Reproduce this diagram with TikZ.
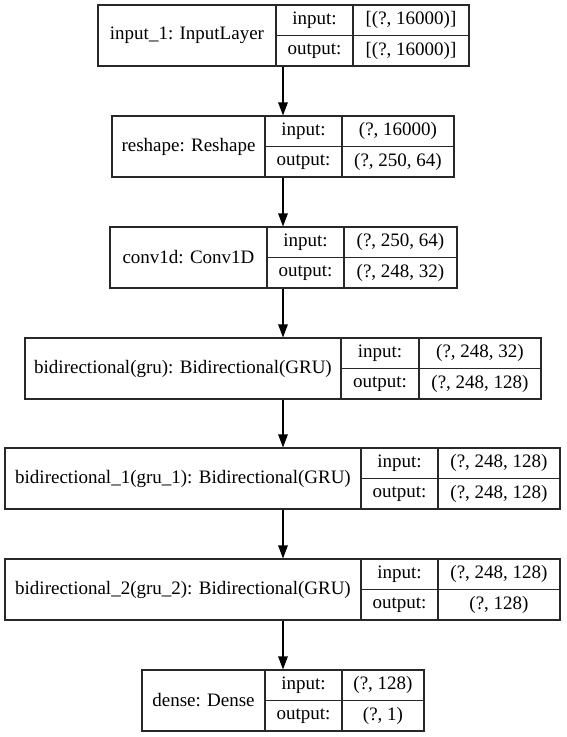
\documentclass[tikz,border=0pt]{standalone}
\usepackage{fontspec}
\setmainfont{Liberation Serif}
\usepackage{tikz}
\usetikzlibrary{arrows.meta}
\definecolor{edge}{RGB}{40,40,40}

\begin{document}
\begin{tikzpicture}[
        x=1pt, y=-1pt,
        cell/.style={draw=edge, line width=1.1pt, inner sep=0pt,
                     minimum height=30.5pt, align=center,
                     font=\fontsize{19}{21}\selectfont},
        namecell/.style={cell, minimum height=61pt},
        arr/.style={-{Triangle[length=13pt, width=9.5pt]}, line width=1.1pt, black},
      ]
        \useasboundingbox (0,0) rectangle (567,737);

        % input_1
        \node[namecell, minimum width=178pt] (in1)    at (187,35.5)    {input\_1: InputLayer};
        \node[cell, minimum width=77pt]      (in1-il) at (314.5,20.25) {input:};
        \node[cell, minimum width=77pt]      (in1-ol) at (314.5,50.75) {output:};
        \node[cell, minimum width=116pt]     (in1-iv) at (411,20.25)   {[(?, 16000)]};
        \node[cell, minimum width=116pt]     (in1-ov) at (411,50.75)   {[(?, 16000)]};

        % reshape
        \node[namecell, minimum width=153pt] (resh)    at (188.5,146.5)  {reshape: Reshape};
        \node[cell, minimum width=77pt]      (resh-il) at (303.5,131.25) {input:};
        \node[cell, minimum width=77pt]      (resh-ol) at (303.5,161.75) {output:};
        \node[cell, minimum width=112pt]     (resh-iv) at (398,131.25)   {(?, 16000)};
        \node[cell, minimum width=112pt]     (resh-ov) at (398,161.75)   {(?, 250, 64)};

        % conv1d
        \node[namecell, minimum width=157pt] (conv)    at (188.5,257.5)  {conv1d: Conv1D};
        \node[cell, minimum width=77pt]      (conv-il) at (305.5,242.25) {input:};
        \node[cell, minimum width=77pt]      (conv-ol) at (305.5,272.75) {output:};
        \node[cell, minimum width=113pt]     (conv-iv) at (400.5,242.25) {(?, 250, 64)};
        \node[cell, minimum width=113pt]     (conv-ov) at (400.5,272.75) {(?, 248, 32)};

        % bidirectional(gru)
        \node[namecell, minimum width=316pt] (bigru)    at (183,368.5)  {bidirectional(gru): Bidirectional(GRU)};
        \node[cell, minimum width=78pt]      (bigru-il) at (380,353.25) {input:};
        \node[cell, minimum width=78pt]      (bigru-ol) at (380,383.75) {output:};
        \node[cell, minimum width=122pt]     (bigru-iv) at (480,353.25) {(?, 248, 32)};
        \node[cell, minimum width=122pt]     (bigru-ov) at (480,383.75) {(?, 248, 128)};

        % bidirectional_1(gru_1)
        \node[namecell, minimum width=356pt] (bigru1)    at (183,478.5)    {bidirectional\_1(gru\_1): Bidirectional(GRU)};
        \node[cell, minimum width=77pt]      (bigru1-il) at (399.5,463.25) {input:};
        \node[cell, minimum width=77pt]      (bigru1-ol) at (399.5,493.75) {output:};
        \node[cell, minimum width=122pt]     (bigru1-iv) at (499,463.25)   {(?, 248, 128)};
        \node[cell, minimum width=122pt]     (bigru1-ov) at (499,493.75)   {(?, 248, 128)};

        % bidirectional_2(gru_2)
        \node[namecell, minimum width=356pt] (bigru2)    at (183,589.5)    {bidirectional\_2(gru\_2): Bidirectional(GRU)};
        \node[cell, minimum width=77pt]      (bigru2-il) at (399.5,574.25) {input:};
        \node[cell, minimum width=77pt]      (bigru2-ol) at (399.5,604.75) {output:};
        \node[cell, minimum width=122pt]     (bigru2-iv) at (499,574.25)   {(?, 248, 128)};
        \node[cell, minimum width=122pt]     (bigru2-ov) at (499,604.75)   {(?, 128)};

        % dense
        \node[namecell, minimum width=123pt] (dense)    at (203.5,700.5)  {dense: Dense};
        \node[cell, minimum width=77pt]      (dense-il) at (303.5,685.25) {input:};
        \node[cell, minimum width=77pt]      (dense-ol) at (303.5,715.75) {output:};
        \node[cell, minimum width=82pt]      (dense-iv) at (383,685.25)   {(?, 128)};
        \node[cell, minimum width=82pt]      (dense-ov) at (383,715.75)   {(?, 1)};

        % Flow
        \coordinate (axis) at (283,0);
        \draw[arr] (axis |- in1.south)    -- (axis |- resh.north);
        \draw[arr] (axis |- resh.south)   -- (axis |- conv.north);
        \draw[arr] (axis |- conv.south)   -- (axis |- bigru.north);
        \draw[arr] (axis |- bigru.south)  -- (axis |- bigru1.north);
        \draw[arr] (axis |- bigru1.south) -- (axis |- bigru2.north);
        \draw[arr] (axis |- bigru2.south) -- (axis |- dense.north);
      \end{tikzpicture}
\end{document}
